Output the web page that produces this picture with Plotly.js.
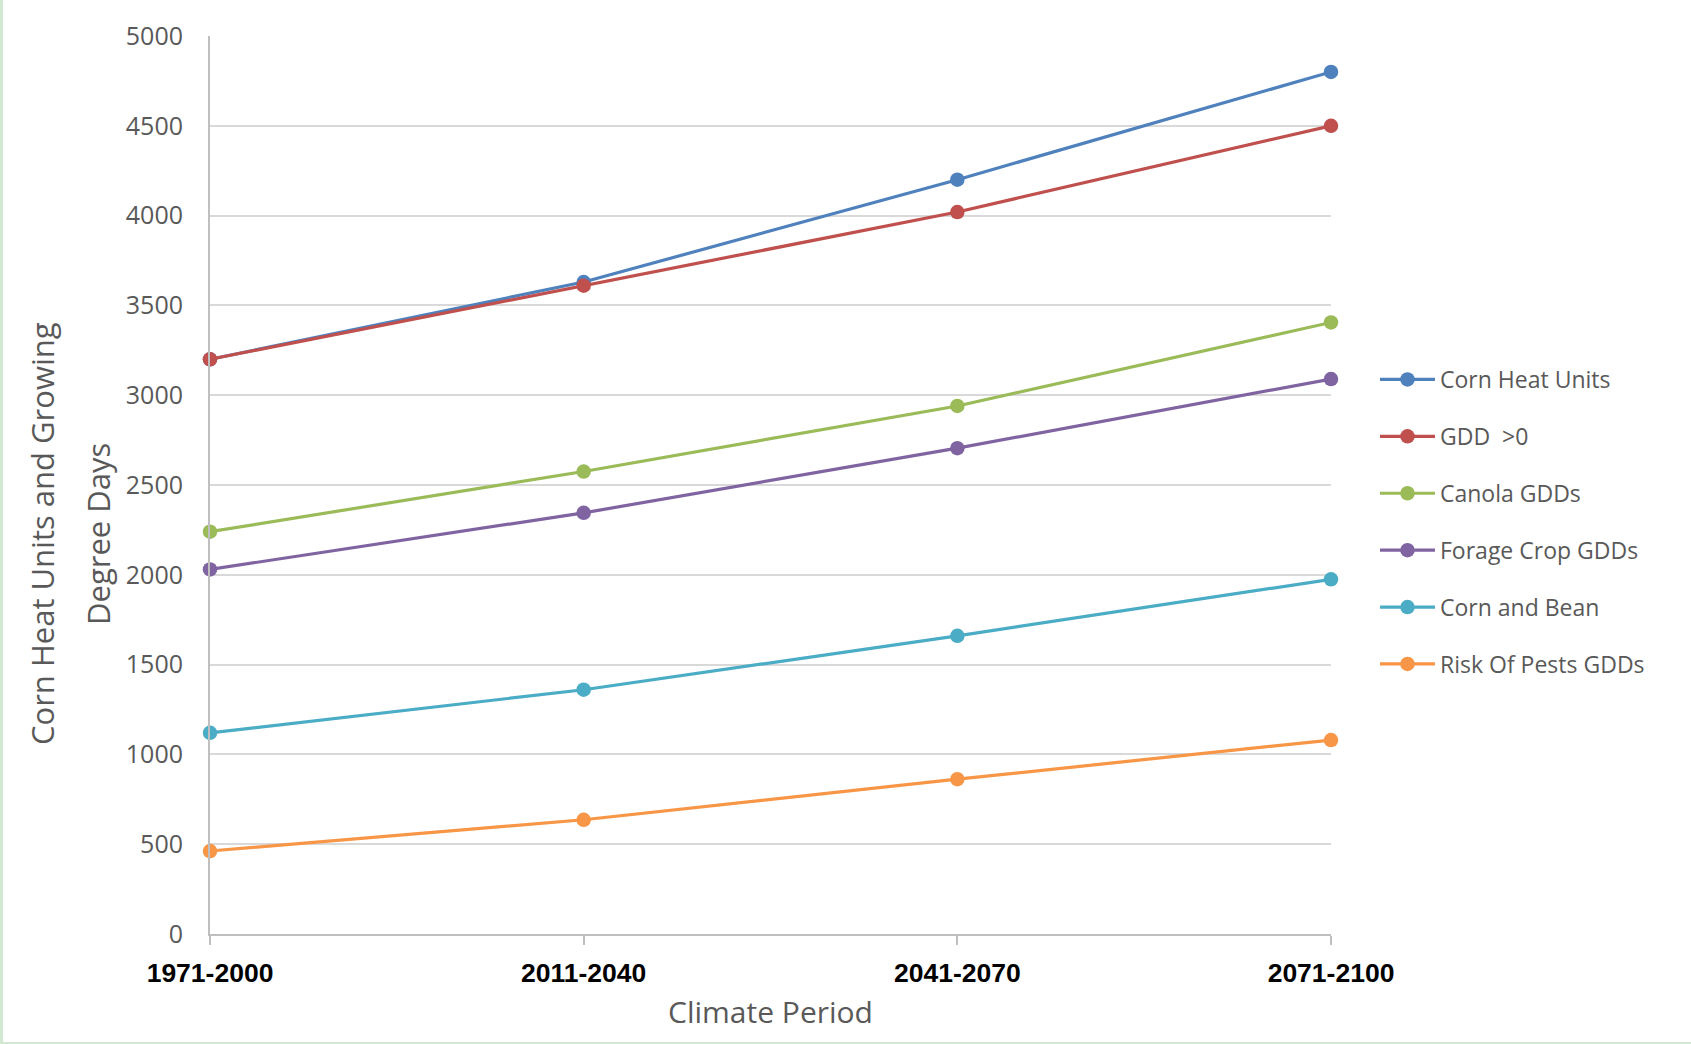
<!DOCTYPE html>
<html>
<head>
<meta charset="utf-8">
<script src="https://cdn.plot.ly/plotly-3.0.1.min.js"></script>
<style>
  html, body { margin: 0; padding: 0; }
  body { width: 1691px; height: 1044px; background: #d3e8d3; position: relative; overflow: hidden; }
  #chart { position: absolute; left: 3px; top: 0; width: 1688px; height: 1042px; background: #ffffff; }
</style>
</head>
<body>
<div id="chart"></div>
<script>
// ---- data ----
const periods = ["1971-2000", "2011-2040", "2041-2070", "2071-2100"];
const cornHeatUnits = [3200, 3630, 4200, 4800];
const gddAbove0 = [3200, 3610, 4020, 4500];
const canolaGDDs = [2240, 2575, 2940, 3405];
const forageCropGDDs = [2030, 2345, 2705, 3090];
const cornAndBean = [1120, 1360, 1660, 1975];
const riskOfPestsGDDs = [462, 636, 862, 1080];

const seriesNames = ["Corn Heat Units", "GDD  >0", "Canola GDDs", "Forage Crop GDDs", "Corn and Bean", "Risk Of Pests GDDs"];
const seriesValues = [cornHeatUnits, gddAbove0, canolaGDDs, forageCropGDDs, cornAndBean, riskOfPestsGDDs];
const seriesColors = ["#4F81BD", "#C0504D", "#9BBB59", "#8064A2", "#4BACC6", "#F79646"];

const yTicks = [0, 500, 1000, 1500, 2000, 2500, 3000, 3500, 4000, 4500, 5000];

const traces = seriesNames.map((name, i) => ({
  type: "scatter",
  mode: "lines+markers",
  name: name,
  x: [0, 1, 2, 3],
  y: seriesValues[i],
  legendgroup: "g" + i,
  cliponaxis: false,
  line: { color: seriesColors[i], width: 3.2 },
  marker: { color: seriesColors[i], size: 14.5, symbol: "circle" },
  hoverinfo: "x+y+name"
}));

const grey = "#595959";
const plotL = 207, plotR = 1328, plotT = 36, plotB = 934;
const W = 1688, H = 1042;

const layout = {
  width: W,
  height: H,
  margin: { l: plotL, r: W - plotR, t: plotT, b: H - plotB, pad: 0 },
  paper_bgcolor: "#ffffff",
  plot_bgcolor: "#ffffff",
  font: { family: "'Open Sans', 'Noto Sans', sans-serif", color: grey },
  showlegend: true,
  legend: {
    x: 1.0446 - 6 / 1121,
    xanchor: "left",
    y: (plotB - 358) / (plotB - plotT),
    yanchor: "top",
    font: { size: 23, color: grey, family: "'Open Sans', 'Noto Sans', sans-serif" },
    tracegroupgap: 24,
    itemwidth: 55,
    bgcolor: "rgba(0,0,0,0)",
    borderwidth: 0
  },
  xaxis: {
    range: [0, 3],
    tickmode: "array",
    tickvals: [0, 1, 2, 3],
    ticktext: periods,
    showgrid: false,
    zeroline: false,
    showline: true,
    linecolor: "#BFBFBF",
    linewidth: 2,
    ticks: "outside",
    ticklen: 9,
    tickwidth: 1.5,
    tickcolor: "#BFBFBF",
    ticklabelstandoff: 5,
    tickfont: { family: "'Liberation Sans', Arial, sans-serif", size: 26.5, color: "#000000", weight: "bold" },
    title: {
      text: "Climate Period",
      font: { size: 30, color: grey, family: "'Open Sans', 'Noto Sans', sans-serif" },
      standoff: 15
    },
    fixedrange: true
  },
  yaxis: {
    range: [0, 5000],
    tickmode: "array",
    tickvals: yTicks,
    ticktext: yTicks.map(String),
    showgrid: true,
    gridcolor: "#D9D9D9",
    gridwidth: 2,
    zeroline: false,
    showline: true,
    linecolor: "#BFBFBF",
    linewidth: 2,
    ticks: "",
    ticklabelstandoff: 20,
    tickfont: { size: 25, color: grey },
    fixedrange: true
  },
  annotations: [
    {
      text: "Corn Heat Units and Growing",
      xref: "paper", yref: "paper",
      x: (42 - 3 - plotL) / (plotR - plotL),
      y: (plotB - 534) / (plotB - plotT),
      xanchor: "center", yanchor: "middle",
      textangle: -90,
      showarrow: false,
      font: { size: 31, color: grey }
    },
    {
      text: "Degree Days",
      xref: "paper", yref: "paper",
      x: (98 - 3 - plotL) / (plotR - plotL),
      y: (plotB - 534) / (plotB - plotT),
      xanchor: "center", yanchor: "middle",
      textangle: -90,
      showarrow: false,
      font: { size: 31, color: grey }
    }
  ]
};

Plotly.newPlot("chart", traces, layout, { displayModeBar: false });
</script>
</body>
</html>
